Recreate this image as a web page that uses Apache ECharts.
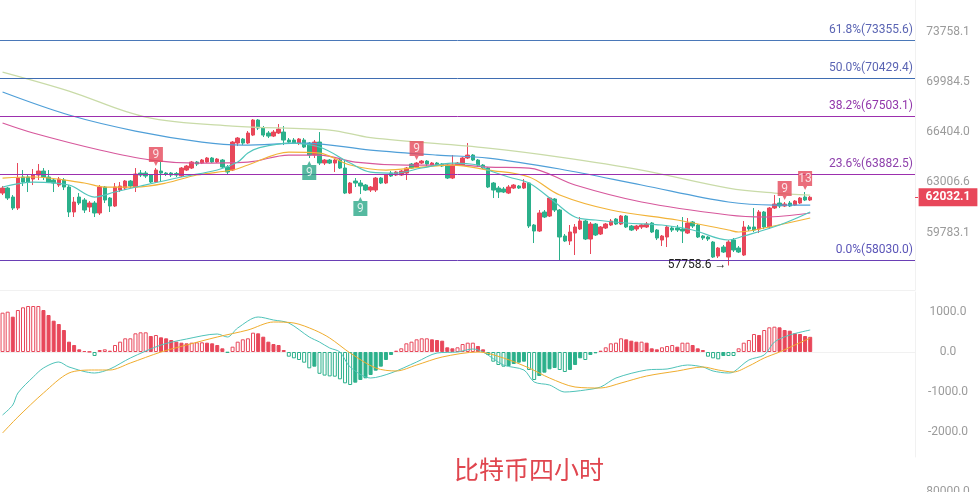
<!DOCTYPE html>
<html>
<head>
<meta charset="UTF-8">
<script src="https://cdn.jsdelivr.net/npm/echarts@6/dist/echarts.min.js"></script>
<style>html,body{margin:0;background:#fff}#c{width:980px;height:492px}</style>
</head>
<body>
<div id="c"></div>
<script>
// 4小时K线，159根，右侧留空
const slotCount = 179;
const categories = Array.from({ length: slotCount }, (_, i) => String(i));

const opens = [
  62308,62635,62048,61339,63361,63361,63228,63493,63759,63361,63162,62832,63162,62701,61083,62048,61854,61403,61660,61019,
  62701,61983,61467,62504,62635,63096,62701,63626,63626,63493,63030,63759,63626,63626,63600,63427,63826,63960,64363,64295,
  64363,64633,64363,64497,64027,63826,65655,65930,65655,66206,67254,66693,66345,66137,66345,66414,65861,65861,65655,65861,
  65655,64836,65723,64295,64497,64295,64497,63960,62308,63096,62964,62832,62504,62504,63294,62964,63626,63493,63493,63626,
  64228,64027,64295,64430,64161,64295,64228,64161,63294,64161,64161,64633,64836,64497,64161,63960,62964,62635,62570,62308,
  62635,62766,62635,62964,60257,59880,61083,60827,61919,61210,59568,59257,59755,60006,60510,59381,60320,59693,60069,60257,
  60637,60320,60827,60194,60006,60132,60132,60384,59943,59319,59506,60069,60069,60006,59755,60447,60257,59568,59506,59195,
  58334,58886,58273,59319,58825,58395,60132,60132,60006,61083,60132,61339,61660,61467,61660,61531,61660,62048,61854
];
const closes = [
  62635,61983,61339,63294,63030,63030,63493,63759,63361,63030,62964,63228,62701,61083,61725,61660,61210,61660,61019,62701,
  61854,61467,62701,62766,63096,62766,63560,63493,63427,63030,63826,63626,63560,63493,63493,63960,64094,64363,64228,64497,
  64633,64363,64565,64027,63693,65723,65999,65655,66345,67254,66693,66206,66137,66414,66623,65861,65723,65655,65930,65381,
  64836,65723,64295,64497,64295,64497,63960,62308,62964,62964,62766,62504,62701,63294,62964,63493,63427,63693,63759,63960,
  63960,64295,64430,64228,64295,64161,64094,63294,64161,64295,64633,64836,64497,64161,63960,62701,62504,62374,62374,62701,
  62832,62635,62964,60194,59880,61019,60764,61983,61210,59506,59257,59818,60132,60510,59381,60320,59631,60132,60320,60510,
  60320,60827,60132,59943,60194,60257,60320,59818,59444,59568,60132,59943,59943,59880,60384,60194,59506,59444,59381,58273,
  58825,58579,59195,58702,58579,60132,60006,59943,61083,60132,61339,61596,61467,61596,61467,61789,61983,61854,62032.1
];
const lows = [
  62178,61854,61210,61210,62766,62374,62832,63162,63162,62964,62374,62701,62504,60764,60764,61531,61019,61083,60764,60891,
  61660,61083,61403,62374,62504,62635,62374,63361,63294,62964,62964,63030,63427,63361,63361,63361,63759,63893,64094,64228,
  64295,64295,64295,63960,63560,63759,65449,65518,65586,66137,66554,66068,65999,66068,66276,65518,65655,65586,65518,65312,
  64633,64633,64161,64161,64228,63693,63893,62243,62243,62701,62243,62439,62374,62374,62898,62898,63361,63427,63427,63162,
  63893,63960,64228,64094,64094,64094,64027,63228,63228,64094,64094,64565,64430,64027,63893,62635,61983,61983,62308,62243,
  62570,62570,62570,60069,59133,59818,60700,60764,61083,58091,59195,59010,58395,59943,59319,58457,59568,59631,60006,60194,
  60257,60257,60069,59880,59880,60006,60069,59755,59319,58948,58886,59818,59818,59133,59693,60069,59444,59319,59257,58213,
  58213,58518,57758.6,58579,58518,58334,59880,59818,59755,60006,60006,61275,61339,61403,61403,61467,61596,61789,61789
];
const highs = [
  62766,62701,62178,64295,63826,63493,63893,64228,63960,63826,63294,63361,63294,62832,62048,62308,61983,61789,61789,62832,
  62766,62048,62964,63030,63162,63162,63960,63826,63759,63560,63960,64363,63693,63693,63693,64027,64161,64430,64430,64565,
  64700,64700,64633,64565,64161,65792,66068,65999,66484,67324,67324,66833,66484,66554,66973,66833,65999,65999,65999,65999,
  65723,65861,66414,64565,64565,64565,64633,64497,63030,63294,63162,62898,62766,63361,63361,63560,63759,63759,63826,64027,
  64295,64363,64497,64497,64363,64363,64295,64228,64836,64363,64700,65655,64904,64565,64228,64027,63030,62766,62701,62832,
  62898,62832,63228,63030,60320,61210,61210,62048,61983,61275,59693,60257,60320,60764,60573,60447,60384,60194,60384,60637,
  60700,60891,60891,60257,60257,60320,60447,60447,60006,59631,60257,60194,60257,60764,60700,60510,60320,59631,59568,59257,
  58886,59010,59319,59444,58948,60510,60257,61339,61210,61146,61403,62178,61983,61725,61789,61854,62048,62374,62113
];

// 均线（按图读点）
const maTealIdx = [0,6,13,18,22,27,35,42,46,48,50,56,62,68,72,77,82,88,93,95,99,103,108,112,116,122,129,135,142,145,152,158];
const maTealVal = [62701,63030,62832,62048,62374,62766,63361,63826,64363,64972,65312,65655,65381,64295,63693,63626,63960,64295,64161,63826,63361,62964,61725,60764,60573,60384,60257,59943,59319,59568,60257,61083];
const maOrangeIdx = [0,6,16,20,26,32,38,45,48,56,62,68,75,82,88,95,103,109,119,132,142,144,149,158];
const maOrangeVal = [63294,63361,62964,62701,62701,62964,63493,63826,64161,65040,64972,64161,63826,64027,64161,63826,63361,62178,61210,60573,59943,59818,60069,60700];
const maMagentaIdx = [0,6,19,29,38,48,56,62,69,79,89,95,103,112,125,142,149,158];
const maMagentaVal = [67043,66345,65176,64497,64295,64363,64836,64836,64363,64161,64161,64027,63960,62832,61725,60891,60764,61019];
const maBlueIdx = [0,13,26,39,47,59,72,85,95,109,125,142,151,158];
const maBlueVal = [69253,67607,66484,65723,65518,65655,65176,64836,64633,63893,62832,61725,61531,61531];
const maPaleIdx = [0,13,28,45,64,72,95,109,125,142,151,158];
const maPaleVal = [70717,69325,67465,66833,66554,66030,65312,64700,63826,62635,62308,62178];

// 斐波那契
const fibLevels = ['61.8%', '50.0%', '38.2%', '23.6%', '0.0%'];
const fibPrices = [73355.6, 70429.4, 67503.1, 63882.5, 58030.0];
const fibLineColors = ['#4a78b8', '#3f6db2', '#9c2fae', '#9c2fae', '#6a3fb5'];
const fibTextColors = ['#5a64b3', '#5a64b3', '#9236ab', '#8e40ac', '#5b55b8'];

// 神奇九转
const tdSellIdx = [30, 81, 153, 157];
const tdSellText = ['9', '9', '9', '13'];
const tdBuyIdx = [60, 70];
const tdBuyText = ['9', '9'];

const lowMarkIdx = 142;
const lowMarkPrice = 57758.6;

const priceTicks = [73758.1, 69984.5, 66404.0, 63006.6, 59783.1];
const macdTicks = [1000, 0, -1000, -2000];

// MACD
const difIdx = [0,2,3,6,8,11,13,18,21,25,31,36,42,44,46,50,53,56,60,62,64,66,68,72,76,81,85,89,92,94,98,102,104,107,110,114,117,120,126,130,134,137,139,142,143,146,149,151,154,158];
const difVal = [-1575,-1325,-1025,-625,-400,-250,-375,-525,-425,-150,175,325,450,375,600,875,800,725,375,250,100,0,-375,-650,-525,-250,-25,0,75,0,-325,-450,-750,-825,-1000,-950,-875,-650,-450,-425,-325,-375,-475,-525,-500,-200,-75,250,425,550];
const deaIdx = [0,3,8,13,18,21,25,31,36,42,48,53,57,61,64,68,73,77,81,86,93,98,103,107,112,117,121,126,132,137,140,143,146,149,152,155,158];
const deaVal = [-2025,-1625,-1025,-525,-450,-450,-275,0,175,375,550,750,725,550,350,-25,-400,-475,-325,-125,0,-150,-400,-650,-875,-900,-775,-600,-475,-375,-450,-500,-350,-150,0,175,350];
const macdHist = [
  983,1008,883,1050,1117,1150,1150,1150,1050,925,
  783,700,550,258,175,67,25,8,-100,50,
  67,33,175,258,342,342,467,492,492,400,
  425,367,342,300,258,233,217,233,242,242,
  233,217,175,92,-17,133,258,317,342,483,
  467,383,258,200,175,50,-117,-158,-200,-267,
  -408,-367,-545,-590,-610,-617,-683,-783,-825,-767,
  -700,-658,-575,-467,-367,-200,-75,33,92,217,
  258,317,342,342,317,300,283,117,92,117,
  200,233,233,150,67,-75,-242,-325,-367,-350,
  -300,-267,-242,-450,-700,-600,-517,-433,-400,-450,
  -500,-450,-325,-158,-200,-75,-33,33,117,217,
  233,342,317,283,258,258,233,92,67,117,
  150,175,133,233,233,175,92,50,-117,-158,
  -183,-100,-100,-100,92,233,300,450,425,550,
  617,633,617,550,533,467,450,400,380
];

const RED = '#e8475a';
const GREEN = '#2bb08b';
const L = Math.log;

const chart = echarts.init(document.getElementById('c'), null, { renderer: 'canvas' });

const candles = opens.map((o, i) => [L(o), L(closes[i]), L(lows[i]), L(highs[i])]);
const lastClose = closes[closes.length - 1];
const pairs = (idx, vals, f) => idx.map((k, i) => [k, f ? f(vals[i]) : vals[i]]);

function maLine(name, idx, vals, color) {
  return {
    name, type: 'line', xAxisIndex: 0, yAxisIndex: 0,
    data: pairs(idx, vals, L), showSymbol: false, smooth: 0.35,
    lineStyle: { width: 1.2, color }, silent: true
  };
}

const histData = macdHist.map((v, i) => {
  const prev = i > 0 ? macdHist[i - 1] : v;
  const c = v >= 0 ? RED : GREEN;
  const hollow = v >= 0 ? v >= prev : v <= prev;
  return {
    value: v,
    itemStyle: hollow ? { color: '#fff', borderColor: c, borderWidth: 1 } : { color: c, borderColor: c, borderWidth: 1 }
  };
});

const sellPath = 'path://M0,0 L14,0 L14,15 L9,15 L7,19 L5,15 L0,15 Z';
const buyPath = 'path://M0,4 L5,4 L7,0 L9,4 L14,4 L14,19 L0,19 Z';

const faint = '#f1f1f1';
const gridBase = { left: 0, right: 65, containLabel: false, outerBoundsMode: 'none' };
const xBase = {
  type: 'category', data: categories, boundaryGap: true,
  axisLine: { show: true, lineStyle: { color: faint } },
  axisTick: { show: false }, axisLabel: { show: false }, splitLine: { show: false }
};
const labelBase = { align: 'center', margin: 33, color: '#9b9b9b', fontSize: 12, fontFamily: 'Roboto' };

const option = {
  animation: false,
  backgroundColor: '#fff',
  title: {
    text: '比特币四小时', left: 449, top: 452,
    textStyle: { color: '#e0464f', fontSize: 25, fontWeight: 'normal', fontFamily: 'Noto Sans CJK SC' }
  },
  grid: [
    Object.assign({ top: 0, height: 290 }, gridBase),
    Object.assign({ top: 292, height: 165 }, gridBase),
    Object.assign({ top: 492, height: 60 }, gridBase)
  ],
  xAxis: [
    Object.assign({ gridIndex: 0 }, xBase),
    Object.assign({ gridIndex: 1 }, xBase),
    Object.assign({ gridIndex: 2 }, xBase, { axisLine: { show: false } })
  ],
  yAxis: [
    {
      type: 'value', gridIndex: 0, position: 'right', min: L(56296), max: L(76256),
      axisLine: { show: true, lineStyle: { color: faint } }, axisTick: { show: false }, splitLine: { show: false },
      axisLabel: Object.assign({ customValues: priceTicks.map(L), formatter: v => Math.exp(v).toFixed(1) }, labelBase)
    },
    {
      type: 'value', gridIndex: 0, position: 'right', min: L(56296), max: L(76256),
      axisLine: { show: false }, splitLine: { show: false },
      axisTick: { show: true, customValues: [L(lastClose)], length: 3, lineStyle: { color: RED, width: 1 } },
      axisLabel: Object.assign({}, labelBase, {
        customValues: [L(lastClose)], formatter: v => Math.exp(v).toFixed(1),
        color: '#fff', fontWeight: 'bold', backgroundColor: RED, padding: [3, 7, 3, 7]
      })
    },
    {
      type: 'value', gridIndex: 1, position: 'right', min: -2625, max: 1500,
      axisLine: { show: true, lineStyle: { color: faint } }, axisTick: { show: false }, splitLine: { show: false },
      axisLabel: Object.assign({ customValues: macdTicks, formatter: v => v.toFixed(1) }, labelBase)
    },
    {
      type: 'value', gridIndex: 2, position: 'right', min: 0, max: 80000,
      axisLine: { show: false }, axisTick: { show: false }, splitLine: { show: false },
      axisLabel: Object.assign({ customValues: [80000], formatter: v => v.toFixed(1) }, labelBase)
    }
  ],
  series: [
    maLine('MA120', maPaleIdx, maPaleVal, '#c9dba8'),
    maLine('MA60', maBlueIdx, maBlueVal, '#4f9fd8'),
    maLine('MA30', maMagentaIdx, maMagentaVal, '#d7589c'),
    maLine('MA10', maOrangeIdx, maOrangeVal, '#f2b338'),
    maLine('MA5', maTealIdx, maTealVal, '#52c6bd'),
    {
      type: 'candlestick', xAxisIndex: 0, yAxisIndex: 0, data: candles, barWidth: '78%',
      itemStyle: { color: RED, color0: GREEN, borderColor: RED, borderColor0: GREEN, borderWidth: 1 },
      markLine: {
        silent: true, symbol: ['none', 'none'], animation: false,
        data: fibPrices.map((p, i) => ({
          yAxis: L(p),
          lineStyle: { color: fibLineColors[i], width: 1, type: 'solid' },
          label: {
            show: true, position: 'insideEndTop', distance: [2, 4],
            formatter: fibLevels[i] + '(' + p.toFixed(1) + ')',
            color: fibTextColors[i], fontSize: 12, fontFamily: 'Roboto'
          }
        }))
      },
      markPoint: {
        silent: true, animation: false,
        data: [{
          coord: [lowMarkIdx, L(lowMarkPrice)], symbol: 'circle', symbolSize: 0,
          label: {
            show: true, position: 'left', distance: 2,
            formatter: lowMarkPrice.toFixed(1) + ' →', color: '#222', fontSize: 12, fontFamily: 'Roboto'
          }
        }]
      }
    },
    {
      type: 'scatter', xAxisIndex: 0, yAxisIndex: 0, z: 5, silent: true,
      symbol: sellPath, symbolSize: [14, 19], symbolOffset: [0, -11.5],
      itemStyle: { color: '#e5485a' },
      label: { show: true, position: 'inside', offset: [0, -2], color: '#fff', fontSize: 12, fontFamily: 'Roboto' },
      data: tdSellIdx.map((k, i) => ({ value: [k, L(highs[k])], label: { formatter: tdSellText[i] } }))
    },
    {
      type: 'scatter', xAxisIndex: 0, yAxisIndex: 0, z: 5, silent: true,
      symbol: buyPath, symbolSize: [14, 19], symbolOffset: [0, 12.5],
      itemStyle: { color: '#2aa888' },
      label: { show: true, position: 'inside', offset: [0, 2], color: '#fff', fontSize: 12, fontFamily: 'Roboto' },
      data: tdBuyIdx.map((k, i) => ({ value: [k, L(lows[k])], label: { formatter: tdBuyText[i] } }))
    },
    {
      type: 'bar', xAxisIndex: 1, yAxisIndex: 2, data: histData, barWidth: '78%', silent: true
    },
    {
      name: 'DIF', type: 'line', xAxisIndex: 1, yAxisIndex: 2, data: pairs(difIdx, difVal),
      showSymbol: false, smooth: 0.3, lineStyle: { width: 1, color: '#4fc3b9' }, silent: true
    },
    {
      name: 'DEA', type: 'line', xAxisIndex: 1, yAxisIndex: 2, data: pairs(deaIdx, deaVal),
      showSymbol: false, smooth: 0.3, lineStyle: { width: 1, color: '#f0ad2e' }, silent: true
    }
  ]
};

chart.setOption(option);
</script>
</body>
</html>
